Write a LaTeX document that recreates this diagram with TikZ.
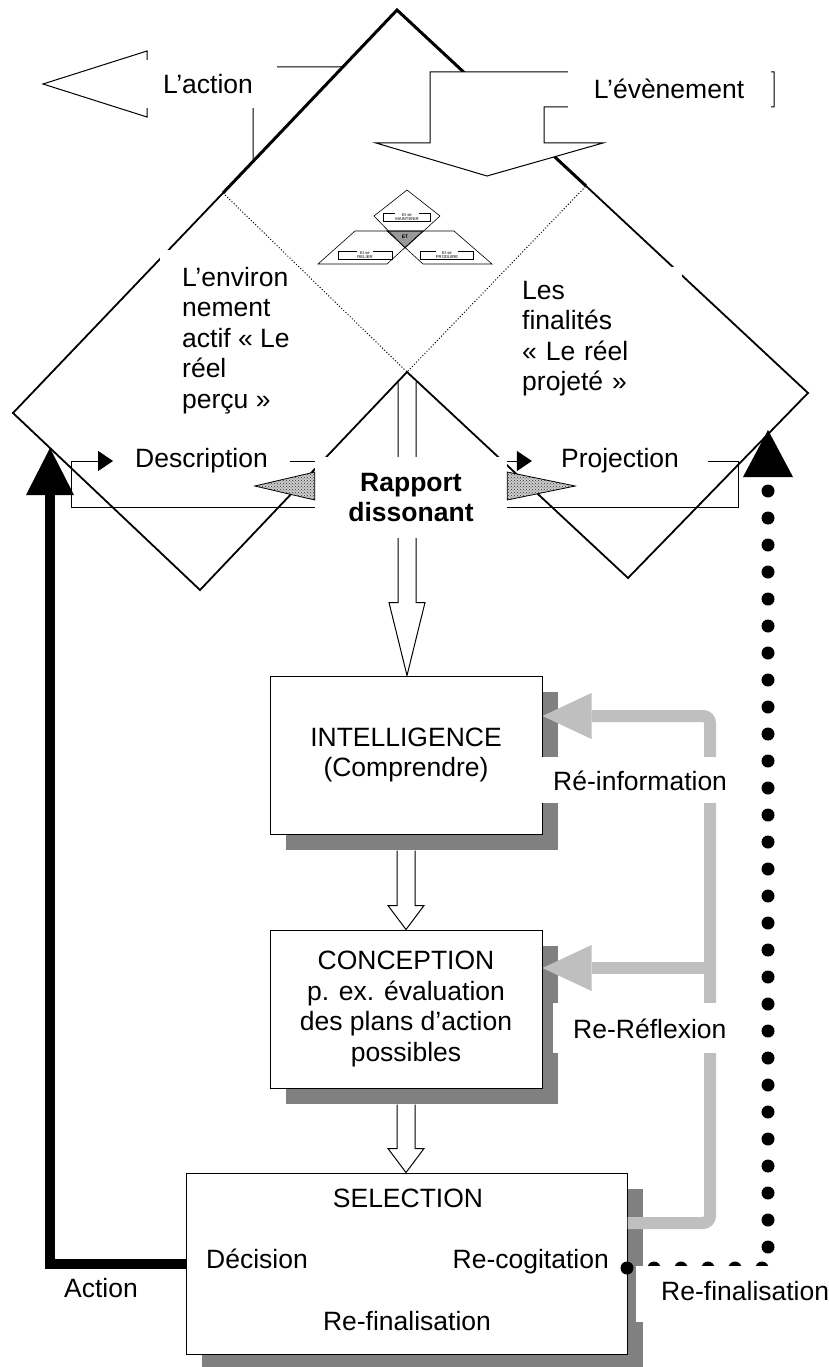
\documentclass[tikz,border=0pt]{standalone}
\usepackage{fontspec}
\setmainfont{Liberation Sans}
\usetikzlibrary{calc, patterns, shadows, arrows.meta}

\begin{document}
\begin{tikzpicture}[x=1pt, y=-1pt,
  every node/.style={font=\fontsize{26.5}{30.5}\selectfont},
  ridge/.style={line width=3pt},
  rim/.style={line width=1.8pt},
  thin line/.style={line width=1pt},
  blank/.style={fill=white},
  stage/.style={draw, line width=1pt, fill=white, align=center,
    drop shadow={shadow xshift=16pt, shadow yshift=-16pt, fill=black!50, opacity=1}},
  hollow/.style={draw, line width=1pt, fill=white},
  hatched/.style={draw, line width=0.8pt, preaction={fill=black!20}, pattern=crosshatch dots, pattern color=black!80},
  loopline/.style={line width=1pt, -{Triangle[length=15pt, width=20pt]}},
  feedback/.style={line width=12pt, black!25, rounded corners=7pt, -{Triangle[length=49pt, width=46pt, line width=0pt]}},
  actionline/.style={line width=10pt, -{Triangle[length=47pt, width=48pt, line width=0pt]}},
  refinal/.style={line width=13pt, line cap=round, dash pattern=on 0pt off 27pt, -{Triangle[length=47pt, width=50pt, line width=0pt]}}
]
\useasboundingbox (0,0) rectangle (829,1367);

% corners of the three diamonds
\coordinate (apex) at (397,10);
\coordinate (T1) at (223,193);
\coordinate (T2) at (586,186);
\coordinate (Lv) at (13,413);
\coordinate (B1) at (200,590);
\coordinate (C) at (407,372);
\coordinate (B2) at (628,578);
\coordinate (Rv) at (808,393);

% L'action arrow, behind the outline
\draw[thin line, fill=white] (43,84) -- (147,51) -- (147,67) -- (380,67) -- (380,200) -- (253,200) -- (253,107) -- (147,107) -- (147,117) -- cycle;

% outline
\fill[white] (apex) -- (Lv) -- (B1) -- (C) -- (B2) -- (Rv) -- cycle;
\draw[ridge] (T1) -- (apex) -- (T2);
\draw[rim] (T1) -- (Lv) -- (B1) -- (C) -- (B2) -- (Rv) -- (T2);

% L'evenement arrow
\draw[thin line, fill=white] (774,72) -- (430,72) -- (430,143) -- (376,143) -- (487,176) -- (603,143) -- (544,143) -- (544,107) -- (774,107) -- cycle;

% small ET logo
\fill[black!40] (387,231) -- (423,231) -- (405,248) -- cycle;
\draw[line width=0.6pt] (407,190) -- (440,216) -- (405,248) -- (374,216) -- cycle;
\draw[line width=0.6pt] (355,231) -- (423,231) -- (387,264) -- (318,264) -- cycle;
\draw[line width=0.6pt] (387,231) -- (454,231) -- (492,264) -- (423,264) -- cycle;
\foreach \px/\py/\w/\word in {407/217/47/MAINTENIR, 365/255/54/RELIER, 447/255/53/PRODUIRE} {
  \draw[line width=0.5pt] (\px-\w/2,\py-4) rectangle (\px+\w/2,\py+4);
  \node[blank, inner sep=0.3pt, align=center, font=\fontsize{4.2}{4.6}\selectfont] (et-\word) at (\px,\py) {Et se\\\word};
}
\node[font=\bfseries\fontsize{5}{5}\selectfont, inner sep=0pt] (et) at (405,237) {ET};

% texts of the diamonds
\node[blank, anchor=north west, align=left, inner xsep=22pt, inner ysep=17pt] (envtxt) at (160,250) {L’environ\\nement\\actif « Le\\réel\\perçu »};
\node[blank, anchor=north west, align=left, text width=150pt, inner xsep=10pt, inner ysep=14pt] (fintxt) at (512,267) {Les\\finalités\\« Le réel\\projeté »};
\node[blank, minimum width=137pt, minimum height=48pt] (act) at (208,84) {L’action};
\node[blank, minimum width=203pt, minimum height=42pt] (evt) at (669,89) {L’évènement};
\draw[dotted, line width=1pt] (T1) -- (C) -- (T2);

% stages
\node[stage, minimum width=272pt, minimum height=158pt] (intel) at (406,755) {INTELLIGENCE\\(Comprendre)};
\node[stage, minimum width=272pt, minimum height=158pt] (conc) at (406,1009) {CONCEPTION\\p. ex. évaluation\\des plans d’action\\possibles};
\node[stage, minimum width=441pt, minimum height=181pt] (sel) at (406.5,1263.5) {};

% description / projection loop
\node[blank, inner xsep=22pt, inner ysep=3pt] (desc) at (201.5,461) {Description};
\node[blank, inner xsep=29pt, inner ysep=3pt] (proj) at (620,461) {Projection};
\coordinate (loopbl) at (71,507);
\draw[loopline] (desc.east) -- (proj.west);
\draw[loopline] (proj.east) -- ++(30,0) |- (loopbl) |- (desc.west);

% hollow arrows
\coordinate (a0) at ($(C)+(0,10)$);
\coordinate (a1) at ($(intel.south)+(0,16)$);
\coordinate (a2) at ($(conc.south)+(0,16)$);
\foreach \src/\dst/\hd in {a0/intel.north/73, a1/conc.north/24, a2/sel.north/24}
  \draw[hollow] ($(\src)+(-9,0)$) -- ($(\src |- \dst)+(-9,-\hd)$) -- ($(\src |- \dst)+(-18,-\hd)$) -- (\src |- \dst) -- ($(\src |- \dst)+(18,-\hd)$) -- ($(\src |- \dst)+(9,-\hd)$) -- ($(\src)+(9,0)$);

% the dissonant relation
\node[blank, font=\bfseries\fontsize{26.5}{30}\selectfont, align=center, minimum width=192pt, minimum height=81pt] (rap) at (411,497.5) {Rapport\\dissonant};
\draw[hatched] ($(rap.west)+(0,-25.5)$) -- ($(rap.west)+(-60,-11.5)$) -- ($(rap.west)+(0,2.5)$) -- cycle;
\draw[hatched] ($(rap.east)+(0,-25.5)$) -- ($(rap.east)+(68,-11.5)$) -- ($(rap.east)+(0,2.5)$) -- cycle;

% feedback loops
\coordinate (gtop) at (710,716);
\coordinate (gmid) at (710,968);
\coordinate (gbot) at (710,1223);
\draw[feedback] (sel.east |- gbot) -- (gbot) -- (gtop) -- (intel.east |- gtop);
\draw[feedback] (gmid) -- (conc.east |- gmid);

% action and re-finalisation
\coordinate (atip) at (50,448);
\coordinate (dtip) at (768,430);
\draw[actionline] (sel.west) -| (atip);
\node[circle, fill, inner sep=0pt, minimum size=12pt] (rdot) at (627,1268) {};
\draw[refinal] (rdot.center) -| (dtip);

% labels
\node[blank, anchor=base west, inner xsep=12pt, inner ysep=13pt] (reinfo) at (541,790) {Ré-information};
\node[blank, anchor=base west, inner xsep=20pt, inner ysep=15pt] (reref) at (553,1038) {Re-Réflexion};
\node[anchor=base, inner sep=0pt] (seltitle) at (408,1207) {SELECTION};
\node[anchor=base west, inner sep=0pt] (decis) at (206,1268) {Décision};
\node[anchor=base east, inner sep=0pt] (recog) at (609,1268) {Re-cogitation};
\node[anchor=base, inner sep=0pt] (refin) at (407,1330) {Re-finalisation};
\node[anchor=base west, inner sep=0pt] (actlbl) at (64,1297) {Action};
\node[blank, anchor=base west, inner xsep=25pt, inner ysep=15pt, text depth=7pt] (refin2) at (636,1300) {Re-finalisation};
\end{tikzpicture}
\end{document}
